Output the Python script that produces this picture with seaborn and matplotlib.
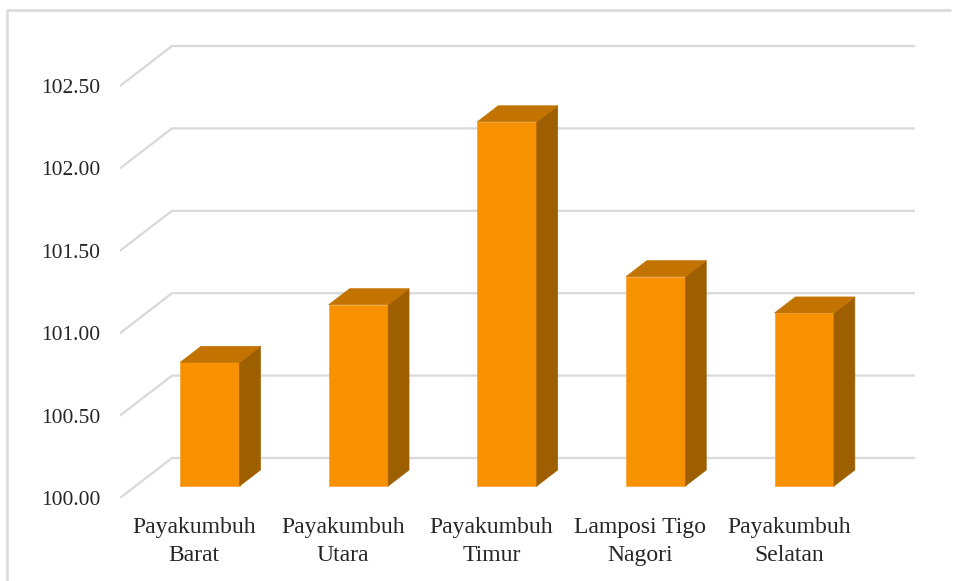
import matplotlib
matplotlib.use("Agg")
import matplotlib.pyplot as plt
from matplotlib.patches import Polygon
from matplotlib.lines import Line2D
import seaborn as sns

# ------------------------------------------------------------
# data
# ------------------------------------------------------------
regions = ["Payakumbuh\nBarat", "Payakumbuh\nUtara", "Payakumbuh\nTimur",
           "Lamposi Tigo\nNagori", "Payakumbuh\nSelatan"]
values = [100.75, 101.10, 102.21, 101.27, 101.05]
y_ticks = [100.0, 100.5, 101.0, 101.5, 102.0, 102.5]

# ------------------------------------------------------------
# style / fake 3D settings
# ------------------------------------------------------------
FRONT = "#F79100"
TOP = "#C37400"
SIDE = "#9E5F00"
GRID = "#D9D9D9"

BASE = 100.0
DX, DY = 0.35, 0.2427          # depth of the whole plot box (data units)
F0 = 0.30                      # bar front position inside depth
FD = 0.40                      # bar depth as part of the box depth
BAR_W = 0.40

sns.set_style("white")
plt.rcParams["font.family"] = ["Liberation Serif", "DejaVu Serif"]

fig = plt.figure(figsize=(9.55, 5.81), dpi=100)
W, H = 955, 581
ax = fig.add_axes([120 / W, (H - 498) / H, 795 / W, 458 / H])

sns.barplot(x=regions, y=values, color=FRONT, width=BAR_W, ax=ax,
            saturation=1, zorder=3)

# move bars to their place in the box and add top and side faces
for i, (patch, v) in enumerate(zip(ax.patches, values)):
    xl = i - BAR_W / 2 + F0 * DX
    xr = xl + BAR_W
    yb = BASE + F0 * DY
    yt = v + F0 * DY
    patch.set_x(xl)
    patch.set_width(BAR_W)
    patch.set_y(yb)
    patch.set_height(v - BASE)
    patch.set_edgecolor("#F9A63A")
    patch.set_linewidth(0.6)
    bdx, bdy = FD * DX, FD * DY
    side = Polygon([(xr, yb), (xr + bdx, yb + bdy), (xr + bdx, yt + bdy), (xr, yt)],
                   closed=True, facecolor=SIDE, edgecolor=SIDE, lw=0.5, zorder=3)
    top = Polygon([(xl, yt), (xl + bdx, yt + bdy), (xr + bdx, yt + bdy), (xr, yt)],
                  closed=True, facecolor=TOP, edgecolor=TOP, lw=0.5, zorder=3)
    ax.add_patch(side)
    ax.add_patch(top)

# gridlines: diagonal on the side wall + horizontal on the back wall
x0 = -0.5
x1 = len(regions) - 0.5
for t in y_ticks:
    ax.add_line(Line2D([x0, x0 + DX, x1 + DX], [t, t + DY, t + DY],
                       color=GRID, lw=1.6, zorder=0, solid_joinstyle="miter"))

ax.set_xlim(x0, x1 + DX)
ax.set_ylim(BASE, 102.779)
ax.set_yticks(y_ticks)
ax.set_yticklabels([f"{t:.2f}" for t in y_ticks])
ax.set_xticks(range(len(regions)))
ax.set_xticklabels(regions, linespacing=1.42)
ax.tick_params(axis="y", length=0, pad=14, labelsize=15.5)
ax.tick_params(axis="x", length=0, pad=14, labelsize=17)
ax.set_xlabel("")
ax.set_ylabel("")
for s in ax.spines.values():
    s.set_visible(False)
ax.patch.set_alpha(0)

# chart frame (top and left edge visible in the screenshot)
fig.add_artist(Line2D([7 / W, 7 / W, 950 / W], [0.0, 1 - 10 / H, 1 - 10 / H],
                      transform=fig.transFigure, color="#D9D9D9", lw=1.8))

fig.savefig("out.png", dpi=100)
